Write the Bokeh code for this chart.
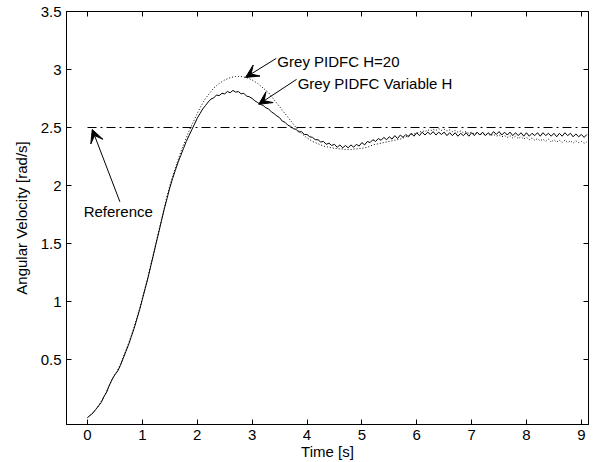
import numpy as np
from bokeh.plotting import figure
from bokeh.models import (Range1d, FixedTicker, LinearAxis, Arrow, VeeHead, Label,
                          CustomJSTickFormatter)
from bokeh.embed import file_html
from bokeh.resources import INLINE

# ---------------- data ----------------
dt = 0.05  # sampling step of the read-off series [s]

# Grey PIDFC Variable H  (solid, noisy)
variable_h = [
    0.00, 0.02, 0.04, 0.07, 0.10, 0.13, 0.18, 0.22, 0.28, 0.33,
    0.37, 0.40, 0.45, 0.51, 0.57, 0.63, 0.70, 0.77, 0.85, 0.93,
    1.02, 1.11, 1.20, 1.30, 1.40, 1.50, 1.60, 1.70, 1.80, 1.89,
    1.98, 2.06, 2.13, 2.20, 2.26, 2.32, 2.38, 2.43, 2.48, 2.53,
    2.58, 2.62, 2.66, 2.69, 2.72, 2.745, 2.755, 2.78, 2.775, 2.795,
    2.79, 2.81, 2.80, 2.82, 2.805, 2.81, 2.79, 2.795, 2.77, 2.765,
    2.75, 2.73, 2.715, 2.70, 2.69, 2.67, 2.66, 2.635, 2.62, 2.60,
    2.585, 2.555, 2.545, 2.52, 2.51, 2.49, 2.485, 2.46, 2.465, 2.44,
    2.44, 2.42, 2.415, 2.395, 2.395, 2.375, 2.38, 2.355, 2.365, 2.345,
    2.355, 2.33, 2.35, 2.325, 2.345, 2.325, 2.35, 2.33, 2.355, 2.34,
    2.37, 2.35, 2.38, 2.37, 2.395, 2.38, 2.405, 2.39, 2.415, 2.395,
    2.42, 2.40, 2.43, 2.405, 2.435, 2.415, 2.44, 2.42, 2.45, 2.425,
    2.455, 2.43, 2.46, 2.435, 2.46, 2.44, 2.465, 2.435, 2.46, 2.44,
    2.46, 2.43, 2.455, 2.43, 2.455, 2.425, 2.45, 2.43, 2.455, 2.425,
    2.455, 2.43, 2.46, 2.435, 2.46, 2.43, 2.455, 2.435, 2.465, 2.44,
    2.465, 2.435, 2.46, 2.435, 2.46, 2.43, 2.455, 2.43, 2.455, 2.425,
    2.455, 2.425, 2.45, 2.43, 2.455, 2.425, 2.455, 2.43, 2.45, 2.425,
    2.45, 2.42, 2.45, 2.425, 2.455, 2.43, 2.45, 2.42, 2.445, 2.42,
    2.44, 2.415, 2.44,
]

# Grey PIDFC H=20  (dotted)
h20 = [
    0.00, 0.02, 0.04, 0.07, 0.10, 0.14, 0.18, 0.23, 0.28, 0.33,
    0.37, 0.41, 0.46, 0.52, 0.58, 0.64, 0.71, 0.78, 0.86, 0.94,
    1.03, 1.12, 1.21, 1.31, 1.41, 1.51, 1.61, 1.71, 1.81, 1.91,
    2.00, 2.08, 2.15, 2.22, 2.29, 2.35, 2.41, 2.47, 2.52, 2.57,
    2.62, 2.67, 2.71, 2.75, 2.78, 2.81, 2.84, 2.86, 2.88, 2.895,
    2.91, 2.92, 2.93, 2.935, 2.94, 2.94, 2.94, 2.935, 2.93, 2.92,
    2.91, 2.895, 2.88, 2.86, 2.84, 2.82, 2.80, 2.77, 2.74, 2.71,
    2.68, 2.65, 2.62, 2.59, 2.56, 2.53, 2.50, 2.475, 2.45, 2.43,
    2.41, 2.395, 2.38, 2.37, 2.36, 2.35, 2.34, 2.335, 2.33, 2.325,
    2.32, 2.32, 2.315, 2.315, 2.31, 2.31, 2.31, 2.315, 2.315, 2.32,
    2.32, 2.325, 2.33, 2.34, 2.35, 2.355, 2.36, 2.365, 2.37, 2.375,
    2.38, 2.385, 2.39, 2.395, 2.40, 2.41, 2.42, 2.43, 2.44, 2.445,
    2.45, 2.46, 2.47, 2.465, 2.48, 2.47, 2.485, 2.475, 2.49, 2.475,
    2.485, 2.47, 2.48, 2.465, 2.475, 2.46, 2.47, 2.455, 2.465, 2.45,
    2.46, 2.445, 2.455, 2.44, 2.45, 2.435, 2.445, 2.43, 2.44, 2.425,
    2.435, 2.42, 2.43, 2.415, 2.43, 2.41, 2.425, 2.405, 2.42, 2.40,
    2.415, 2.395, 2.41, 2.39, 2.405, 2.385, 2.40, 2.38, 2.40, 2.375,
    2.395, 2.375, 2.39, 2.37, 2.39, 2.37, 2.385, 2.365, 2.385, 2.37,
    2.38, 2.365, 2.375,
]

t_var = [round(i * dt, 2) for i in range(len(variable_h))]
t_h20 = [round(i * dt, 2) for i in range(len(h20))]

# Reference set-point
ref_t = [0.0, 9.2]
ref_v = [2.5, 2.5]

x_ticks = [0, 1, 2, 3, 4, 5, 6, 7, 8, 9]
y_ticks = [0.5, 1, 1.5, 2, 2.5, 3, 3.5]
y_tick_labels = ["0.5", "1", "1.5", "2", "2.5", "3", "3.5"]

# annotation texts and arrows (tail -> tip, in data units)
ann_texts = ["Grey PIDFC H=20", "Grey PIDFC Variable H", "Reference"]
ann_text_pos = [(3.46, 3.07), (3.83, 2.88), (-0.07, 1.774)]
ann_arrows = [((3.44, 3.096), (2.88, 2.932)),
              ((3.81, 2.915), (3.12, 2.70)),
              ((0.59, 1.86), (0.086, 2.483))]

# ---------------- figure ----------------
FONT = "Liberation Sans"
FS = "15px"

p = figure(width=600, height=462, output_backend="svg", toolbar_location=None,
           x_range=Range1d(-0.383, 9.13), y_range=Range1d(-0.06, 3.5),
           min_border_left=66, min_border_right=12, min_border_top=11,
           min_border_bottom=37)
p.background_fill_color = "white"
p.border_fill_color = "white"
p.outline_line_color = "black"
p.outline_line_width = 1
p.xgrid.visible = False
p.ygrid.visible = False

xa = p.xaxis[0]
xa.ticker = FixedTicker(ticks=x_ticks)
xa.axis_label = "Time [s]"
ya = p.yaxis[0]
ya.ticker = FixedTicker(ticks=y_ticks)
ya.major_label_overrides = {t: l for t, l in zip(y_ticks, y_tick_labels)}
ya.axis_label = "Angular Velocity [rad/s]"

for ax in (xa, ya):
    ax.axis_line_color = "black"
    ax.major_tick_line_color = "black"
    ax.major_tick_in = 5
    ax.major_tick_out = 0
    ax.minor_tick_line_color = None
    ax.major_label_text_font = FONT
    ax.major_label_text_font_size = FS
    ax.major_label_text_color = "black"
    ax.axis_label_text_font = FONT
    ax.axis_label_text_font_size = FS
    ax.axis_label_text_font_style = "normal"
    ax.axis_label_text_color = "black"

xa.major_label_standoff = 5
xa.axis_label_standoff = 0
ya.major_label_standoff = 5
ya.axis_label_standoff = 8

# mirrored tick axes (box), labels left empty
blank = CustomJSTickFormatter(code="return ''")
top = LinearAxis(ticker=FixedTicker(ticks=x_ticks), formatter=blank,
                 major_tick_in=5, major_tick_out=0, minor_tick_line_color=None,
                 major_label_standoff=0, axis_line_color="black")
right = LinearAxis(ticker=FixedTicker(ticks=y_ticks), formatter=blank,
                   major_tick_in=5, major_tick_out=0, minor_tick_line_color=None,
                   major_label_standoff=0, axis_line_color="black")
p.add_layout(top, "above")
p.add_layout(right, "right")

# curves
p.line(ref_t, ref_v, line_color="black", line_width=1, line_dash="9 4 2 4")
p.line(t_h20, h20, line_color="black", line_width=1, line_dash="1 2")
p.line(t_var, variable_h, line_color="black", line_width=1)

# annotations
for txt, (tx, ty) in zip(ann_texts, ann_text_pos):
    p.add_layout(Label(x=tx, y=ty, text=txt, text_font=FONT, text_font_size=FS,
                       text_align="left", text_baseline="middle", text_color="black"))
for (x0, y0), (x1, y1) in ann_arrows:
    p.add_layout(Arrow(x_start=x0, y_start=y0, x_end=x1, y_end=y1,
                       line_color="black", line_width=1,
                       end=VeeHead(size=13, fill_color="black", line_color="black")))

open("out.html", "w").write(file_html(p, INLINE))
